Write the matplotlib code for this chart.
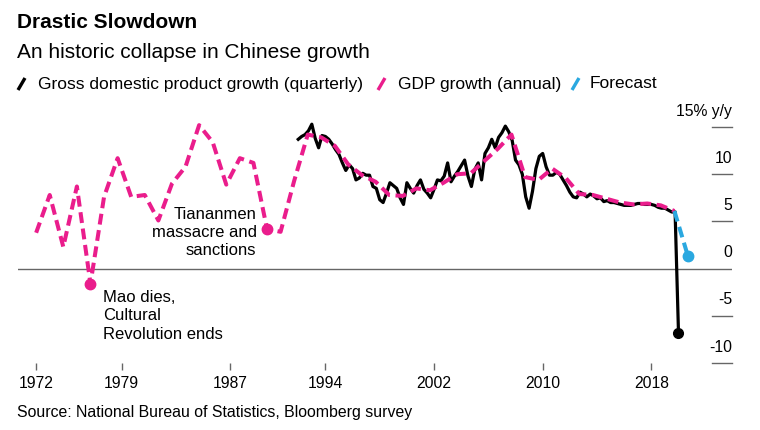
import matplotlib
matplotlib.use("Agg")
import matplotlib.pyplot as plt
import matplotlib.transforms as mtransforms
import numpy as np

plt.rcParams['font.family'] = ['Liberation Sans', 'DejaVu Sans']

# ---------------- data ----------------
annual_years = list(range(1972, 2020))
annual_growth = [3.8, 7.8, 2.3, 8.7, -1.6, 7.6, 11.7, 7.6, 7.8, 5.1,
                 9.0, 10.8, 15.2, 13.4, 8.9, 11.7, 11.2, 4.2, 3.9, 9.3,
                 14.2, 13.9, 13.0, 11.0, 9.9, 9.2, 7.8, 7.7, 8.5, 8.3,
                 9.1, 10.0, 10.1, 11.4, 12.7, 14.2, 9.7, 9.4, 10.6, 9.6,
                 7.9, 7.8, 7.4, 7.0, 6.8, 6.9, 6.7, 6.1]

quarter_start_year = 1992
quarterly_growth = [
    13.7, 14.0, 14.2, 14.6,   # 1992
    15.3, 13.8, 12.8, 14.1,   # 1993
    14.0, 13.7, 13.2, 12.6,   # 1994
    12.1, 11.2, 10.4, 11.0,   # 1995
    10.6, 9.4, 9.6, 10.1,     # 1996
    9.9, 9.9, 8.7, 8.5,       # 1997
    7.3, 7.0, 8.0, 9.1,       # 1998
    8.8, 8.5, 7.5, 6.8,       # 1999
    9.1, 8.5, 8.0, 8.8,       # 2000
    9.4, 8.4, 8.0, 7.5,       # 2001
    8.4, 9.4, 9.3, 9.8,       # 2002
    11.2, 9.2, 9.8, 10.3,     # 2003
    10.9, 11.5, 9.8, 8.7,     # 2004
    10.5, 11.2, 9.4, 12.2,    # 2005
    12.8, 13.7, 12.8, 13.9,   # 2006
    14.4, 15.1, 14.5, 13.6,   # 2007
    11.5, 11.0, 10.0, 7.6,    # 2008
    6.4, 8.2, 10.6, 11.9,     # 2009
    12.2, 10.8, 9.9, 9.9,     # 2010
    10.2, 10.0, 9.4, 8.8,     # 2011
    8.1, 7.6, 7.5, 8.1,       # 2012
    7.9, 7.6, 7.9, 7.7,       # 2013
    7.4, 7.5, 7.1, 7.2,       # 2014
    7.0, 7.0, 6.9, 6.8,       # 2015
    6.7, 6.7, 6.7, 6.8,       # 2016
    6.9, 6.9, 6.8, 6.8,       # 2017
    6.8, 6.7, 6.5, 6.4,       # 2018
    6.4, 6.2, 6.0, 6.0,       # 2019
    -6.8,                     # 2020 Q1
]

forecast_year = 2020
forecast_growth = 1.3

tick_years = [1972, 1979, 1987, 1994, 2002, 2010, 2018]
y_ticks = [15, 10, 5, 0, -5, -10]
y_tick_labels = ["15% y/y", "10", "5", "0", "-5", "-10"]

title = "Drastic Slowdown"
subtitle = "An historic collapse in Chinese growth"
legend_labels = ["Gross domestic product growth (quarterly)",
                 "GDP growth (annual)", "Forecast"]
source = "Source: National Bureau of Statistics, Bloomberg survey"
annot_1976 = "Mao dies,\nCultural\nRevolution ends"
annot_1989 = "Tiananmen\nmassacre and\nsanctions"

# ---------------- styling ----------------
BLACK = "#000000"
PINK = "#ea1d8c"
BLUE = "#2aa8e0"
GRAY = "#666666"
ANNUAL_OFFSET = 0.7

W, H = 760, 430
fig = plt.figure(figsize=(W / 100, H / 100), dpi=100)
ax = fig.add_axes([18 / W, (H - 363) / H, 714 / W, (363 - 117.6) / H])
ax.set_xlim(1971.364, 2023.94)
ax.set_ylim(-10, 16)
for s in ax.spines.values():
    s.set_visible(False)

xa = np.array(annual_years) + ANNUAL_OFFSET
ya = np.array(annual_growth)
xq = quarter_start_year + np.arange(len(quarterly_growth)) / 4.0
yq = np.array(quarterly_growth)

ax.axhline(0, color=GRAY, lw=1.0, zorder=1)

ax.plot(xq, yq, color=BLACK, lw=2.3, solid_joinstyle='round', zorder=3)
ax.plot(xa, ya, color=PINK, lw=2.9, linestyle=(0, (2.7, 1.4)), zorder=4)
xf = [xa[-1], forecast_year + ANNUAL_OFFSET]
yf = [ya[-1], forecast_growth]
ax.plot(xf, yf, color=BLUE, lw=2.9, linestyle=(0, (2.7, 1.4)), zorder=4)

# dots
i76 = annual_years.index(1976)
i89 = annual_years.index(1989)
ax.plot([xa[i76], xa[i89]], [ya[i76], ya[i89]], 'o', color=PINK, ms=7.5, zorder=5)
ax.plot([xq[-1]], [yq[-1]], 'o', color=BLACK, ms=7, zorder=5)
ax.plot([xf[-1]], [yf[-1]], 'o', color=BLUE, ms=7.5, zorder=5)

# annotations
ax.annotate(annot_1989, xy=(xa[i89], ya[i89]), xytext=(-7.5, -2.5),
            textcoords='offset points', ha='right', va='center',
            fontsize=12, linespacing=1.28, color="#000000", zorder=6)
ax.annotate(annot_1976, xy=(xa[i76], ya[i76]), xytext=(9.3, -23),
            textcoords='offset points', ha='left', va='center',
            fontsize=12, linespacing=1.28, color="#000000", zorder=6)

# x ticks
xt = [xa[0]] + tick_years[1:]
ax.set_xticks(xt)
ax.set_xticklabels([str(y) for y in tick_years])
ax.tick_params(axis='x', direction='out', length=5, width=1, color=GRAY,
               pad=4.5, labelsize=11.3, labelcolor="#000000")
ax.set_yticks([])

# right y ticks
trans = mtransforms.blended_transform_factory(ax.transAxes, ax.transData)
for v, lab in zip(y_ticks, y_tick_labels):
    if v != 0:
        ax.plot([0.972, 1.0], [v, v], color=GRAY, lw=1.0, transform=trans,
                clip_on=False, zorder=1)
    off = mtransforms.offset_copy(trans, fig=fig, x=0, y=11.5, units='points')
    ax.text(1.0, v, lab, transform=off, ha='right', va='center',
            fontsize=11.3, color="#000000")

# titles
fig.text(17 / W, 1 - 22 / H, title, fontsize=15, fontweight='bold',
         ha='left', va='center')
fig.text(17 / W, 1 - 52 / H, subtitle, fontsize=15, ha='left', va='center')

# legend
ly = 84
legend_items = [(18, 38, BLACK), (378, 398, PINK), (572, 590, BLUE)]
for (sx, tx, col), lab in zip(legend_items, legend_labels):
    fig.add_artist(plt.Line2D([sx / W, (sx + 7) / W],
                              [1 - (ly + 6) / H, 1 - (ly - 6) / H],
                              color=col, lw=2.4, solid_capstyle='butt'))
    fig.text(tx / W, 1 - ly / H, lab, fontsize=12.5, ha='left', va='center')

fig.text(17 / W, 1 - 412 / H, source, fontsize=11.4, ha='left', va='center')

fig.savefig("out.png", dpi=100)
